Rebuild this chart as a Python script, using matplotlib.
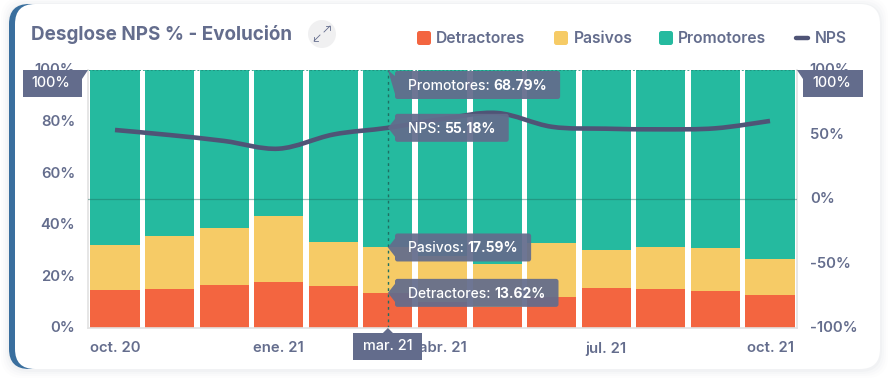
import matplotlib
matplotlib.use("Agg")
import matplotlib.pyplot as plt
from matplotlib.patches import FancyBboxPatch, Polygon, Circle, PathPatch
from matplotlib.path import Path
from matplotlib.transforms import ScaledTranslation
import numpy as np

plt.rcParams['font.family'] = ['Inter', 'DejaVu Sans']

months = ["oct. 20", "nov. 20", "dic. 20", "ene. 21", "feb. 21", "mar. 21", "abr. 21",
          "may. 21", "jun. 21", "jul. 21", "ago. 21", "sep. 21", "oct. 21"]
detractores = [14.7, 15.0, 16.5, 17.8, 16.2, 13.62, 10.0, 8.3, 12.0, 15.5, 15.0, 14.3, 12.8]
pasivos = [17.3, 20.7, 22.2, 25.6, 17.3, 17.59, 18.0, 16.7, 21.0, 14.9, 16.4, 16.7, 13.9]
promotores = [68.0, 64.3, 61.3, 56.6, 66.5, 68.79, 72.0, 75.0, 67.0, 69.6, 68.6, 69.0, 73.3]
nps = [53.5, 49.6, 45.0, 39.0, 50.0, 55.18, 62.0, 66.7, 56.0, 54.5, 54.0, 54.8, 60.5]
left_ticks = [0, 20, 40, 60, 80, 100]
right_ticks = [-100, -50, 0, 50, 100]
shown_months = [0, 3, 6, 9, 12]
hover = 5

W, H = 892, 378
C_TXT = "#646d8d"
C_DET, C_PAS, C_PRO, C_NPS = "#f36540", "#f6cb66", "#25ba9f", "#4f5476"
TICK_FS = 10.7

fig = plt.figure(figsize=(W / 100, H / 100), dpi=100, facecolor="white")

bg = fig.add_axes([0, 0, 1, 1], zorder=0)
bg.set_xlim(0, W); bg.set_ylim(H, 0); bg.axis("off")
top = fig.add_axes([0, 0, 1, 1], zorder=5)
top.set_xlim(0, W); top.set_ylim(H, 0); top.axis("off"); top.patch.set_alpha(0)

# card
for g, a in [(8, 0.012), (6, 0.015), (4, 0.02), (2, 0.03)]:
    bg.add_patch(FancyBboxPatch((9 - g, 4 - g + 1), 871 + 2 * g, 365 + 2 * g,
                                boxstyle="round,pad=0,rounding_size=22", fc="#5f6889", ec="none", alpha=a))
bg.add_patch(FancyBboxPatch((9, 4), 60, 365, boxstyle="round,pad=0,rounding_size=20", fc="#3a6f9e", ec="none"))
bg.add_patch(FancyBboxPatch((15, 4), 865, 365, boxstyle="round,pad=0,rounding_size=20", fc="white", ec="none"))

# main axes
x0, x1, y0, y1 = 87.7, 797.3, 70, 328
ax = fig.add_axes([x0 / W, 1 - y1 / H, (x1 - x0) / W, (y1 - y0) / H], zorder=2)
ax.patch.set_alpha(0)
idx = np.arange(len(months))
ax.bar(idx, detractores, width=0.9, color=C_DET)
ax.bar(idx, pasivos, width=0.9, bottom=detractores, color=C_PAS)
ax.bar(idx, promotores, width=0.9, bottom=np.add(detractores, pasivos), color=C_PRO)
ax.set_xlim(-0.5, len(months) - 0.5)
ax.set_ylim(0, 100)
ax.set_yticks(left_ticks, [f"{t}%" for t in left_ticks])
ax.set_xticks(shown_months, [months[i] for i in shown_months])
ax.tick_params(length=0, labelcolor=C_TXT, labelsize=TICK_FS, pad=9)
ax.tick_params(axis="x", pad=9.5)
up = ScaledTranslation(0, 0.8 / 72, fig.dpi_scale_trans)
for lbl in ax.get_xticklabels() + ax.get_yticklabels():
    lbl.set_fontweight("semibold")
for lbl in ax.get_yticklabels():
    lbl.set_transform(lbl.get_transform() + up)
ax.spines["top"].set_visible(False)
for s in ("left", "right", "bottom"):
    ax.spines[s].set_color("#e2e2e2"); ax.spines[s].set_linewidth(1.2)
ax.axhline(100, color="#1c8a76", lw=0.7, ls=(0, (2, 2)), alpha=0.8, clip_on=False)

ax2 = ax.twinx()
ax2.set_ylim(-100, 100)
ax2.set_yticks(right_ticks, [f"{t}%" for t in right_ticks])
ax2.tick_params(length=0, labelcolor=C_TXT, labelsize=TICK_FS, pad=9)
for lbl in ax2.get_yticklabels():
    lbl.set_fontweight("semibold")
    lbl.set_transform(lbl.get_transform() + up)
for s in ax2.spines.values():
    s.set_visible(False)
ax2.axhline(0, color="#1f6f62", lw=0.9, alpha=0.45)

# smooth NPS curve
p = np.column_stack([idx, nps]).astype(float)
verts, codes = [p[0]], [Path.MOVETO]
for i in range(len(p) - 1):
    a = p[max(i - 1, 0)]; b = p[i]; c = p[i + 1]; d_ = p[min(i + 2, len(p) - 1)]
    verts += [b + (c - a) / 6, c - (d_ - b) / 6, c]
    codes += [Path.CURVE4] * 3
ax2.add_patch(PathPatch(Path(verts, codes), fc="none", ec=C_NPS, lw=3.3, capstyle="butt"))
ax.axvline(hover, color="#1f6f62", lw=1.0, ls=(0, (2, 2.5)))

# title, expand icon, legend
top.text(31, 34, "Desglose NPS % - Evolución", color=C_TXT, fontsize=13.55, fontweight="bold", va="center")
top.add_patch(Circle((322, 34), 14, fc="#f0f0f1", ec="none"))
top.plot([324, 330], [32, 26], color=C_TXT, lw=0.6)
top.plot([326, 330, 330], [26, 26, 30], color=C_TXT, lw=0.6)
top.plot([320, 314], [35, 41], color=C_TXT, lw=0.6)
top.plot([314, 314, 318], [37, 41, 41], color=C_TXT, lw=0.6)
for xs, label, col, xt in [(417, "Detractores", C_DET, 436), (554, "Pasivos", C_PAS, 574), (659, "Promotores", C_PRO, 678)]:
    top.add_patch(FancyBboxPatch((xs, 31), 14, 14, boxstyle="round,pad=0,rounding_size=2.5", fc=col, ec="none"))
    top.text(xt, 38.5, label, color=C_TXT, fontsize=11.3, fontweight="semibold", va="center")
top.plot([796, 808], [38, 38], color=C_NPS, lw=3.2, solid_capstyle="round")
top.text(815, 38.5, "NPS", color=C_TXT, fontsize=11.3, fontweight="semibold", va="center")

# axis badges
BADGE = "#636c8c"
top.add_patch(Polygon([(23, 70), (88, 70), (82, 79), (82, 97), (23, 97)], fc=BADGE, ec="none"))
top.text(51, 83, "100%", color="white", fontsize=10.4, fontweight="medium", ha="center", va="center")
top.add_patch(Polygon([(797, 70), (863, 70), (863, 97), (803, 97), (803, 79)], fc=BADGE, ec="none"))
top.text(832, 83, "100%", color="white", fontsize=10.4, fontweight="medium", ha="center", va="center")

fig.canvas.draw()
rend = fig.canvas.get_renderer()


def to_px(axes, x, y):
    dx, dy = axes.transData.transform((x, y))
    return dx, H - dy


hx = to_px(ax, hover, 0)[0]
top.add_patch(Polygon([(353, 333), (hx - 5, 333), (hx, 328), (hx + 5, 333), (422, 333), (422, 360), (353, 360)],
                      fc=BADGE, ec="none"))
top.text(388, 346.5, months[hover], color="white", fontsize=10.4, fontweight="medium", ha="center", va="center")

d, pa, pr, n = detractores[hover], pasivos[hover], promotores[hover], nps[hover]
tips = [("Promotores: ", f"{pr:.2f}%", to_px(ax, hover, 100)[1], 15),
        ("NPS: ", f"{n:.2f}%", to_px(ax2, hover, n)[1], 0),
        ("Pasivos: ", f"{pa:.2f}%", to_px(ax, hover, d + pa)[1], 0),
        ("Detractores: ", f"{d:.2f}%", to_px(ax, hover, d)[1], 0)]
for head, val, ya, off in tips:
    yc = ya + off
    t1 = top.text(408, yc + 0.7, head, color="white", fontsize=10.0, fontweight="medium", va="center", zorder=4)
    w1 = t1.get_window_extent(rend).width
    t2 = top.text(408 + w1, yc + 0.7, val, color="white", fontsize=10.0, fontweight="bold", va="center", zorder=4)
    xr = t2.get_window_extent(rend).x1
    top.add_patch(FancyBboxPatch((395, yc - 14), xr + 13 - 395, 28, boxstyle="round,pad=0,rounding_size=2.5",
                                 fc=BADGE, ec="none", alpha=0.93, zorder=3))
    top.add_patch(Polygon([(hx, ya), (395, yc - 9), (395, yc + 9)], fc=BADGE, ec="none", alpha=0.93, zorder=3))

fig.savefig("out.png", dpi=100)
